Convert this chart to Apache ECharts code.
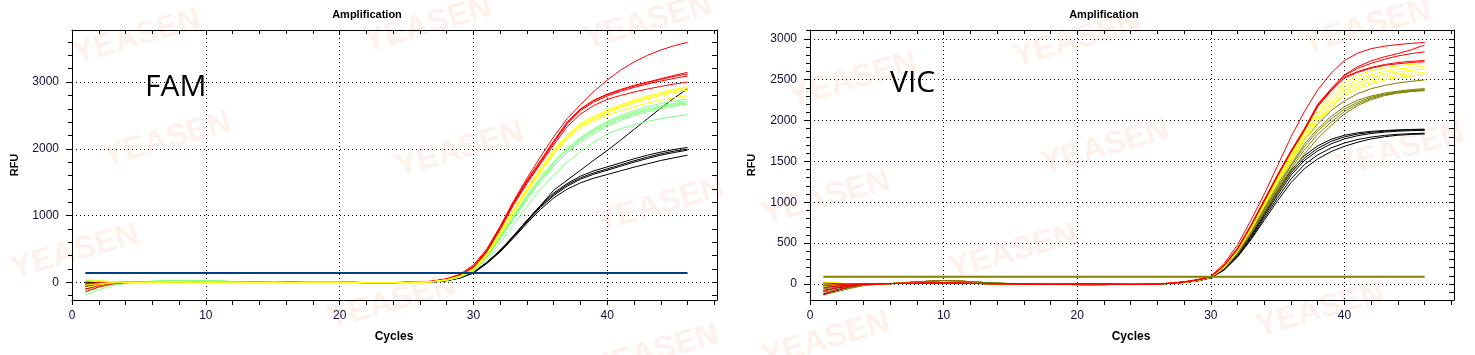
<!DOCTYPE html>
<html><head><meta charset="utf-8">
<script src="https://cdn.jsdelivr.net/npm/echarts@6/dist/echarts.min.js"></script>
<style>html,body{margin:0;padding:0;background:#fff}#c{width:1475px;height:355px}</style>
</head><body><div id="c"></div>
<script>
const cycles = [1,2,3,4,5,6,7,8,9,10,11,12,13,14,15,16,17,18,19,20,21,22,23,24,25,26,27,28,29,30,31,32,33,34,35,36,37,38,39,40,41,42,43,44,45,46];

// ---- FAM panel ----
const famRed = [
 [-140,-70,-25,-5, 0,3,5,6,5,4,3,2,0,-2,-3,-2,0,2,3,1,-2,-4,-5,-4,-2,3, 20,55,120,260,500,840,1220,1560,1880,2180,2450,2660,2860,3030,3180,3300,3400,3480,3545,3595],
 [-60,-30,-10,0, 1,4,6,7,6,4,2,1,-1,-3,-3,-1,1,3,3,0,-3,-5,-5,-3,-1,3, 18,50,110,240,480,830,1200,1530,1820,2120,2400,2600,2730,2820,2890,2950,3000,3050,3100,3145],
 [-20,-10,-5,0, 0,2,4,5,5,4,3,1,0,-1,-2,-2,0,1,2,1,-1,-3,-4,-3,-1,2, 15,48,105,230,470,820,1190,1520,1810,2110,2390,2590,2720,2810,2880,2940,2990,3040,3085,3120],
 [10,5,0,0, -1,2,4,6,6,5,3,2,0,-2,-2,-1,1,2,2,0,-2,-3,-4,-3,-1,2, 15,45,100,225,460,810,1180,1500,1790,2090,2370,2570,2700,2790,2860,2920,2970,3015,3055,3090],
 [-100,-50,-15,0, 2,4,6,7,6,4,3,1,-1,-2,-3,-2,0,2,3,1,-2,-4,-5,-4,-2,2, 12,42,95,215,450,790,1160,1480,1770,2060,2330,2520,2650,2740,2800,2850,2895,2935,2970,3000]
];
const famYellow = [
 [45,25,10,3, 0,2,4,5,4,3,2,1,0,-2,-3,-2,0,2,3,1,-2,-4,-5,-4,-2,2, 12,40,95,205,430,760,1090,1410,1700,1980,2210,2380,2490,2580,2660,2730,2790,2845,2890,2930],
 [20,10,5,0, 1,3,5,6,5,4,3,2,0,-2,-3,-2,0,2,3,1,-2,-4,-5,-4,-2,2, 12,38,92,200,420,745,1075,1395,1685,1960,2190,2360,2470,2560,2640,2710,2770,2825,2868,2905],
 [-40,-20,-5,0, 0,3,5,6,5,4,3,2,0,-2,-3,-2,0,2,3,1,-2,-4,-5,-4,-2,2, 10,36,88,195,410,730,1060,1380,1670,1940,2170,2340,2450,2540,2620,2690,2750,2800,2845,2880],
 [-80,-40,-10,0, 0,3,5,6,5,4,3,2,0,-2,-3,-2,0,2,3,1,-2,-4,-5,-4,-2,2, 10,35,85,190,400,715,1040,1360,1640,1920,2150,2310,2420,2500,2570,2630,2685,2730,2765,2795]
];
const famGreen = [
 [-190,-110,-50,-15, 5,15,22,25,25,22,18,12,8,4,0,-3,-2,3,8,6,0,-6,-8,-6,-3,2, 10,35,88,185,395,690,995,1300,1570,1810,2010,2170,2300,2410,2500,2570,2630,2680,2715,2745],
 [-150,-80,-30,-5, 3,12,20,24,24,21,17,11,7,3,0,-3,-2,2,7,5,0,-5,-7,-5,-3,2, 10,33,85,180,385,680,980,1280,1550,1790,1990,2150,2280,2390,2475,2545,2600,2645,2680,2710],
 [-120,-60,-20,0, 4,14,21,25,24,22,18,12,8,4,1,-2,-2,3,8,6,0,-6,-8,-6,-3,2, 9,32,82,178,380,670,970,1265,1530,1770,1970,2130,2260,2370,2455,2525,2580,2625,2660,2690],
 [30,15,5,0, 2,10,18,22,22,20,16,10,6,3,0,-3,-2,2,6,5,0,-5,-7,-5,-2,2, 9,30,80,172,370,655,950,1240,1500,1740,1940,2100,2230,2340,2425,2500,2555,2600,2640,2670],
 [-60,-30,-10,0, 5,15,22,26,25,22,18,12,8,4,0,-3,-2,3,8,6,0,-6,-8,-6,-3,2, 8,28,75,160,340,590,870,1140,1390,1610,1800,1960,2100,2220,2300,2360,2410,2450,2485,2510]
];
const famBlack = [
 [-100,-50,-20,-5, 0,2,4,5,4,3,2,1,0,-2,-3,-2,0,2,3,1,-2,-4,-5,-4,-2,2, 8,28,70,150,300,480,700,930,1150,1340,1480,1590,1670,1730,1790,1850,1905,1950,1990,2020],
 [-60,-30,-10,0, 0,2,4,5,4,3,2,1,0,-2,-3,-2,0,2,3,1,-2,-4,-5,-4,-2,2, 8,27,68,145,295,475,690,920,1135,1320,1460,1565,1640,1700,1760,1820,1875,1925,1965,1995],
 [-20,-10,0,0, 0,2,4,5,4,3,2,1,0,-2,-3,-2,0,2,3,1,-2,-4,-5,-4,-2,2, 7,26,66,142,290,468,680,905,1120,1300,1440,1545,1620,1680,1740,1800,1855,1905,1945,1980],
 [0,0,0,0, 0,2,4,5,4,3,2,1,0,-2,-3,-2,0,2,3,1,-2,-4,-5,-4,-2,2, 7,25,64,138,282,455,665,885,1090,1265,1395,1490,1560,1615,1670,1725,1775,1825,1865,1905],
 [-40,-20,-5,0, 0,2,4,5,4,3,2,1,0,-2,-3,-2,0,2,3,1,-2,-4,-5,-4,-2,2, 8,27,68,146,296,478,695,925,1150,1380,1530,1680,1830,1975,2130,2290,2450,2610,2760,2900]
];
const famThreshold = 140;

// ---- VIC panel ----
const vicRed = [
 [-130,-70,-30,-5, 0,5,8,10,12,12,10,8,5,3,2,0,-2,-3,-2,0,2,0,-3,-5,-3,0, 10,28,55,95,250,480,780,1100,1450,1800,2110,2375,2580,2735,2825,2880,2910,2930,2945,2955],
 [-50,-25,-10,0, 0,5,8,10,12,12,10,8,5,3,2,0,-2,-3,-2,0,2,0,-3,-5,-3,0, 10,25,50,90,230,440,720,1030,1340,1630,1900,2200,2390,2560,2660,2730,2780,2820,2865,2925],
 [-20,-10,0,0, 0,5,8,10,12,12,10,8,5,3,2,0,-2,-3,-2,0,2,0,-3,-5,-3,0, 10,25,50,90,228,435,715,1025,1335,1625,1895,2190,2380,2550,2640,2700,2750,2790,2820,2840],
 [10,5,0,0, 0,5,8,10,12,12,10,8,5,3,2,0,-2,-3,-2,0,2,0,-3,-5,-3,0, 9,24,48,88,225,430,710,1020,1330,1620,1885,2180,2370,2530,2600,2650,2685,2710,2725,2735],
 [-90,-45,-15,0, 0,5,8,10,12,12,10,8,5,3,2,0,-2,-3,-2,0,2,0,-3,-5,-3,0, 9,24,48,88,222,425,705,1010,1320,1610,1875,2170,2360,2520,2590,2640,2675,2695,2710,2720]
];
const vicYellow = [
 [25,12,5,0, 0,5,8,10,12,12,10,8,5,3,2,0,-2,-3,-2,0,2,0,-3,-5,-3,0, 10,24,47,88,215,420,690,1000,1300,1580,1870,2120,2320,2460,2550,2610,2645,2670,2688,2700],
 [0,0,0,0, 0,5,8,10,12,12,10,8,5,3,2,0,-2,-3,-2,0,2,0,-3,-5,-3,0, 10,24,46,87,212,415,682,990,1285,1560,1840,2080,2270,2410,2500,2560,2600,2630,2648,2660],
 [20,10,3,0, 0,5,8,10,12,12,10,8,5,3,2,0,-2,-3,-2,0,2,0,-3,-5,-3,0, 9,23,45,86,208,410,675,980,1270,1540,1810,2040,2230,2370,2460,2520,2565,2595,2615,2628],
 [-30,-15,-5,0, 0,5,8,10,12,12,10,8,5,3,2,0,-2,-3,-2,0,2,0,-3,-5,-3,0, 9,22,44,85,205,402,665,965,1255,1520,1780,2010,2190,2330,2420,2480,2525,2555,2575,2587],
 [10,5,0,0, 0,5,8,10,12,12,10,8,5,3,2,0,-2,-3,-2,0,2,0,-3,-5,-3,0, 9,22,43,84,200,395,655,950,1240,1500,1760,1980,2160,2300,2390,2450,2495,2525,2545,2558]
];
const vicOlive = [
 [-135,-95,-55,-20, -5,5,15,25,35,42,38,28,18,10,5,3,0,-2,-5,-8,-10,-8,-5,-3,0,2, 8,22,42,82,200,390,650,930,1220,1500,1760,1960,2120,2240,2330,2390,2430,2460,2480,2497],
 [-100,-70,-40,-10, -5,5,15,25,35,42,38,28,18,10,5,3,0,-2,-5,-8,-10,-8,-5,-3,0,2, 8,21,41,81,198,385,640,915,1190,1460,1710,1900,2050,2170,2250,2300,2335,2360,2378,2391],
 [-60,-40,-20,-5, -5,5,15,25,35,42,38,28,18,10,5,3,0,-2,-5,-8,-10,-8,-5,-3,0,2, 8,21,40,80,195,380,632,905,1170,1440,1680,1870,2020,2140,2225,2285,2325,2350,2368,2380],
 [-20,-10,-5,0, -5,5,15,25,35,42,38,28,18,10,5,3,0,-2,-5,-8,-10,-8,-5,-3,0,2, 7,20,40,80,192,372,622,890,1150,1410,1640,1830,1980,2110,2205,2270,2315,2342,2358,2370],
 [15,8,0,0, -5,5,15,25,35,42,38,28,18,10,5,3,0,-2,-5,-8,-10,-8,-5,-3,0,2, 7,20,39,79,188,365,612,875,1120,1370,1590,1780,1940,2080,2185,2255,2305,2335,2355,2366]
];
const vicBlack = [
 [-80,-50,-25,-5, 0,5,8,10,12,12,10,8,5,3,2,0,-2,-3,-2,0,2,0,-3,-5,-3,0, 8,20,40,78,190,370,600,870,1140,1390,1570,1690,1770,1820,1850,1868,1878,1886,1891,1895],
 [-40,-25,-10,0, 0,5,8,10,12,12,10,8,5,3,2,0,-2,-3,-2,0,2,0,-3,-5,-3,0, 8,20,40,78,185,360,585,850,1115,1360,1540,1660,1745,1800,1835,1856,1870,1880,1885,1888],
 [0,0,0,0, 0,5,8,10,12,12,10,8,5,3,2,0,-2,-3,-2,0,2,0,-3,-5,-3,0, 8,20,39,77,180,350,570,830,1090,1330,1510,1630,1715,1775,1815,1842,1858,1870,1876,1880],
 [-120,-80,-40,-10, 0,5,8,10,12,12,10,8,5,3,2,0,-2,-3,-2,0,2,0,-3,-5,-3,0, 7,19,38,76,175,340,555,805,1055,1285,1460,1580,1665,1725,1768,1798,1818,1832,1840,1845],
 [-20,-10,0,0, 0,5,8,10,12,12,10,8,5,3,2,0,-2,-3,-2,0,2,0,-3,-5,-3,0, 7,19,38,76,170,330,540,780,1020,1240,1410,1530,1620,1685,1735,1775,1802,1820,1830,1835]
];
const vicThreshold = 90;

// ---- axis ticks ----
const xMajorTicks = [0,10,20,30,40];
const xMinorTicks = [0,2,4,6,8,10,12,14,16,18,20,22,24,26,28,30,32,34,36,38,40,42,44,46,48];
const famYMajorTicks = [0,1000,2000,3000];
const famYMinorTicks = [-200,0,200,400,600,800,1000,1200,1400,1600,1800,2000,2200,2400,2600,2800,3000,3200,3400,3600];
const vicYMajorTicks = [0,500,1000,1500,2000,2500,3000];
const vicYMinorTicks = [-100,0,100,200,300,400,500,600,700,800,900,1000,1100,1200,1300,1400,1500,1600,1700,1800,1900,2000,2100,2200,2300,2400,2500,2600,2700,2800,2900,3000,3100];

[famRed,famYellow,famGreen,famBlack,vicRed,vicYellow,vicOlive,vicBlack].forEach((g,gi)=>g.forEach((a,i)=>{
  if (a.length !== cycles.length) throw new Error('length mismatch group '+gi+' series '+i+': '+a.length);
}));

const LABEL_FONT = '"Liberation Sans", Arial, sans-serif';
const LABEL_COLOR = '#10103a';
const X_MAX = 48.2;

function axesFor(gi, yMin, yMax, yMajor, yMinor, majorStep, minorStep) {
  const xs = [
    { type:'value', gridIndex:gi, position:'bottom', min:0, max:X_MAX, minInterval:10, maxInterval:10,
      axisLine:{show:true,onZero:false,lineStyle:{color:'#000',width:1}},
      axisTick:{show:true,inside:false,length:5,lineStyle:{color:'#000'},customValues:xMajorTicks},
      axisLabel:{show:true,margin:10,color:LABEL_COLOR,fontSize:12,fontFamily:LABEL_FONT,customValues:xMajorTicks,
        formatter:v=>xMajorTicks.indexOf(v)>=0?String(v):''},
      splitLine:{show:true,lineStyle:{color:'#000',width:1,type:[1,3]}},
      minorTick:{show:false}, minorSplitLine:{show:false} },
    { type:'value', gridIndex:gi, position:'bottom', min:0, max:X_MAX, minInterval:2, maxInterval:2,
      axisLine:{show:false,onZero:false},
      axisTick:{show:true,inside:false,length:5,lineStyle:{color:'#000'},customValues:xMinorTicks},
      axisLabel:{show:false}, splitLine:{show:false} },
    { type:'value', gridIndex:gi, position:'top', min:0, max:X_MAX, minInterval:2, maxInterval:2,
      axisLine:{show:true,onZero:false,lineStyle:{color:'#000',width:1}},
      axisTick:{show:true,inside:true,length:4,lineStyle:{color:'#000'},customValues:xMinorTicks},
      axisLabel:{show:false}, splitLine:{show:false} }
  ];
  const ys = [
    { type:'value', gridIndex:gi, position:'left', min:yMin, max:yMax, minInterval:majorStep, maxInterval:majorStep,
      axisLine:{show:true,onZero:false,lineStyle:{color:'#000',width:1}},
      axisTick:{show:true,inside:false,length:6,lineStyle:{color:'#000'},customValues:yMajor},
      axisLabel:{show:true,margin:13,color:LABEL_COLOR,fontSize:12,fontFamily:LABEL_FONT,customValues:yMajor,
        formatter:v=>yMajor.indexOf(v)>=0?String(v):''},
      splitLine:{show:true,lineStyle:{color:'#000',width:1,type:[1,3]}},
      minorTick:{show:false}, minorSplitLine:{show:false} },
    { type:'value', gridIndex:gi, position:'left', min:yMin, max:yMax, minInterval:minorStep, maxInterval:minorStep,
      axisLine:{show:false,onZero:false},
      axisTick:{show:true,inside:false,length:4,lineStyle:{color:'#000'},customValues:yMinor},
      axisLabel:{show:false}, splitLine:{show:false} },
    { type:'value', gridIndex:gi, position:'right', min:yMin, max:yMax, minInterval:minorStep, maxInterval:minorStep,
      axisLine:{show:true,onZero:false,lineStyle:{color:'#000',width:1}},
      axisTick:{show:true,inside:true,length:5,lineStyle:{color:'#000'},customValues:yMinor},
      axisLabel:{show:false}, splitLine:{show:false} }
  ];
  return {xs, ys};
}

const a0 = axesFor(0, -265, 3780, famYMajorTicks, famYMinorTicks, 1000, 200);
const a1 = axesFor(1, -196, 3108, vicYMajorTicks, vicYMinorTicks, 500, 100);

const series = [];
function addGroup(group, color, gi) {
  group.forEach(arr => series.push({
    type:'line', xAxisIndex:gi*3, yAxisIndex:gi*3, data:cycles.map((c,i)=>[c,arr[i]]),
    showSymbol:false, symbol:'none', silent:true, lineStyle:{width:1,color:color}, z:3
  }));
}
addGroup(famBlack,'#000000',0);
addGroup(famGreen,'#80ff80',0);
addGroup(famRed,'#ff0000',0);
addGroup(famYellow,'#ffff00',0);
addGroup(vicBlack,'#000000',1);
addGroup(vicOlive,'#808000',1);
addGroup(vicYellow,'#ffff00',1);
addGroup(vicRed,'#ff0000',1);
series.push({type:'line',xAxisIndex:0,yAxisIndex:0,showSymbol:false,symbol:'none',silent:true,z:4,
  data:[[cycles[0],famThreshold],[cycles[cycles.length-1],famThreshold]],lineStyle:{width:2,color:'#003f7f'}});
series.push({type:'line',xAxisIndex:3,yAxisIndex:3,showSymbol:false,symbol:'none',silent:true,z:4,
  data:[[cycles[0],vicThreshold],[cycles[cycles.length-1],vicThreshold]],lineStyle:{width:2,color:'#808000'}});

// watermark placement (decoration)
const wmPos = [[137,37],[428,25],[648,22],[167,140],[460,150],[660,205],[75,252],[392,302],[655,352],
               [853,80],[1077,40],[1367,27],[1105,147],[1400,150],[826,198],[1013,252],[826,340],[1320,310]];
const graphics = wmPos.map(p=>({type:'text',x:p[0],y:p[1],rotation:0.28,z:-5,silent:true,
  style:{text:'YEASEN',font:'bold 32px "Liberation Sans", Arial, sans-serif',fill:'rgba(246,170,130,0.16)',align:'center',verticalAlign:'middle'}}));
const T = (text,x,y,font,extra)=>Object.assign({type:'text',x:x,y:y,z:50,silent:true,
  style:{text:text,font:font,fill:'#000',align:'center',verticalAlign:'middle'}},extra||{});
graphics.push(T('Amplification',367,15,'bold 11px "Liberation Sans", Arial, sans-serif'));
graphics.push(T('Amplification',1104,15,'bold 11px "Liberation Sans", Arial, sans-serif'));
graphics.push(T('RFU',15,165,'bold 11px "Liberation Sans", Arial, sans-serif',{rotation:Math.PI/2}));
graphics.push(T('RFU',752,165,'bold 11px "Liberation Sans", Arial, sans-serif',{rotation:Math.PI/2}));
graphics.push(T('Cycles',394,337,'bold 12px "Liberation Sans", Arial, sans-serif'));
graphics.push(T('Cycles',1131,337,'bold 12px "Liberation Sans", Arial, sans-serif'));
graphics.push({type:'text',x:145,y:87,z:50,silent:true,style:{text:'FAM',font:'30px "Open Sans", sans-serif',fill:'#000',align:'left',verticalAlign:'middle'}});
graphics.push({type:'text',x:890,y:83,z:50,silent:true,style:{text:'VIC',font:'30px "Open Sans", sans-serif',fill:'#000',align:'left',verticalAlign:'middle'}});

const chart = echarts.init(document.getElementById('c'), null, {renderer:'canvas', width:1475, height:355});
chart.setOption({
  animation:false,
  backgroundColor:'#ffffff',
  grid:[
    {left:72, top:30, width:645, height:270, containLabel:false, outerBoundsMode:'none'},
    {left:810, top:30, width:644, height:270, containLabel:false, outerBoundsMode:'none'}
  ],
  xAxis: a0.xs.concat(a1.xs),
  yAxis: a0.ys.concat(a1.ys),
  series: series,
  graphic: graphics
});
</script></body></html>
